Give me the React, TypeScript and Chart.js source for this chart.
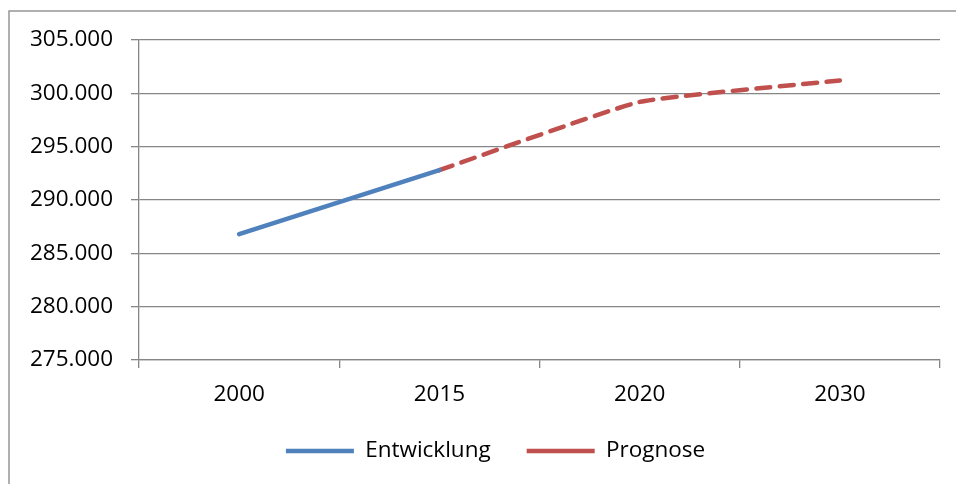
import React, { useEffect, useRef } from "react";
import { Chart, registerables } from "chart.js";

Chart.register(...registerables);

const categories = ["2000", "2015", "2020", "2030"];
const entwicklung: (number | null)[] = [286800, 292800, null, null];
const prognose: (number | null)[] = [null, 292800, 299200, 301200];
const yMin = 275000;
const yMax = 305000;
const yStep = 5000;

const FONT = "'Open Sans', 'Noto Sans', sans-serif";
const FS = 22.5;
const GRID = "#868686";

function formatDe(v: number): string {
  const t = Math.floor(v / 1000);
  const r = String(Math.round(v % 1000)).padStart(3, "0");
  return `${t}.${r}`;
}

const framePlugin = {
  id: "frame",
  beforeDraw(chart: any) {
    const ctx = chart.ctx;
    ctx.save();
    ctx.fillStyle = "#ffffff";
    ctx.fillRect(0, 0, chart.width, chart.height);
    ctx.strokeStyle = GRID;
    ctx.lineWidth = 1.3;
    ctx.strokeRect(9, 11, 1200, 1200);
    ctx.restore();
  },
  afterLayout(chart: any) {
    if (chart.legend) {
      chart.legend.left = 51;
    }
  },
};

export default function App() {
  const ref = useRef<HTMLCanvasElement | null>(null);

  useEffect(() => {
    document.body.style.margin = "0";
    if (!ref.current) return;
    const chart = new Chart(ref.current, {
      type: "line",
      data: {
        labels: categories,
        datasets: [
          {
            label: "Entwicklung",
            data: entwicklung,
            borderColor: "#4F81BD",
            backgroundColor: "#4F81BD",
            borderWidth: 4.5,
            borderCapStyle: "round",
            pointRadius: 0,
            pointHoverRadius: 0,
            tension: 0.12,
            spanGaps: false,
          },
          {
            label: "Prognose",
            data: prognose,
            borderColor: "#C0504D",
            backgroundColor: "#C0504D",
            borderWidth: 4.5,
            borderCapStyle: "round",
            borderDash: [14, 9.5],
            pointRadius: 0,
            pointHoverRadius: 0,
            tension: 0.12,
            spanGaps: false,
          },
        ],
      },
      options: {
        animation: false,
        responsive: true,
        maintainAspectRatio: false,
        devicePixelRatio: 1,
        layout: { padding: { left: 0, right: 16, top: 40, bottom: 11.75 } },
        plugins: {
          tooltip: { enabled: false },
          legend: {
            position: "bottom",
            labels: {
              usePointStyle: true,
              pointStyle: "line",
              pointStyleWidth: 68,
              padding: 36,
              color: "#000000",
              font: { family: FONT, size: FS },
            },
          },
        },
        scales: {
          x: {
            type: "category",
            offset: true,
            grid: {
              offset: true,
              drawOnChartArea: false,
              drawTicks: true,
              tickLength: 8,
              color: GRID,
              lineWidth: 1.3,
            },
            border: { color: GRID, width: 1.3 },
            ticks: {
              color: "#000000",
              font: { family: FONT, size: FS },
              padding: 13,
              maxRotation: 0,
              autoSkip: false,
            },
            afterFit: (s: any) => {
              s.height = 43.75;
            },
          },
          y: {
            min: yMin,
            max: yMax,
            grid: {
              color: GRID,
              lineWidth: 1.3,
              drawTicks: true,
              tickLength: 8,
            },
            border: { color: GRID, width: 1.3 },
            ticks: {
              stepSize: yStep,
              color: "#000000",
              font: { family: FONT, size: FS },
              padding: 18,
              callback: (v: any) => formatDe(Number(v)),
            },
            afterFit: (s: any) => {
              s.width = 139;
            },
          },
        },
      },
      plugins: [framePlugin],
    } as any);
    return () => chart.destroy();
  }, []);

  return (
    <div style={{ position: "fixed", left: 0, top: 0, width: 956, height: 484, background: "#fff" }}>
      <canvas ref={ref} />
    </div>
  );
}
